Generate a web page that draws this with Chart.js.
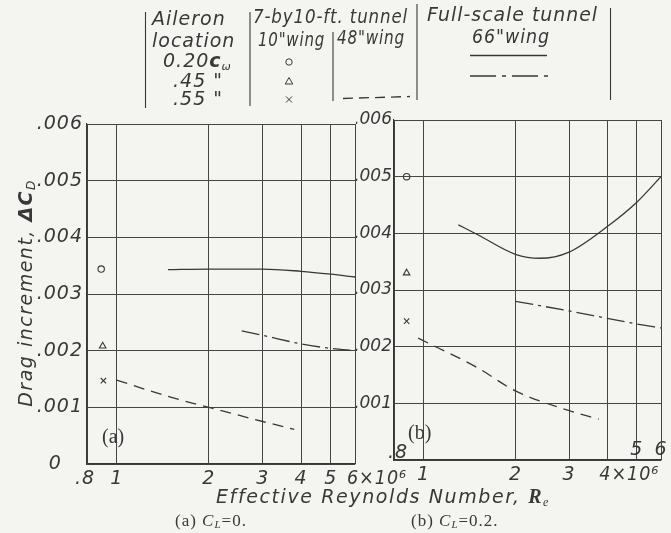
<!DOCTYPE html>
<html><head><meta charset="utf-8">
<script src="https://cdn.jsdelivr.net/npm/chart.js@4.4.1/dist/chart.umd.min.js"></script>
<style>
html,body{margin:0;padding:0;background:#f4f4f1;}
#wrap{position:relative;width:671px;height:533px;overflow:hidden;background:#f4f4f1;}
canvas{position:absolute;left:0;top:0;width:671px;height:533px;}
</style></head><body>
<div id="wrap"><canvas id="ca" width="671" height="533"></canvas><canvas id="cb" width="671" height="533"></canvas></div>
<script>
// ---- data ----
const xTickValues = [0.8, 1, 2, 3, 4, 5, 6];
const yTickValues = [0, 0.001, 0.002, 0.003, 0.004, 0.005, 0.006];
const xTickLabelsA = ['.8', '1', '2', '3', '4', '5', '6×10⁶'];
const xTickLabelsB = ['.8', '1', '2', '3', '4×10⁶', '5', '6'];

// (a) CL = 0
const A_tunnel10_x = [0.89, 0.90, 0.905];          // 7-by10-ft tunnel, 10" wing
const A_tunnel10_y = [0.00344, 0.00208, 0.00147];  // 0.20cw, .45, .55
const A_fs020_x = [1.47, 2, 3, 4, 5, 6];
const A_fs020_y = [0.00343, 0.00344, 0.00344, 0.00340, 0.00335, 0.00330];
const A_fs045_x = [2.56, 3, 4, 5, 6];
const A_fs045_y = [0.00235, 0.00227, 0.00212, 0.00204, 0.00200];
const A_w48_x = [1.0, 1.5, 2, 3, 3.8];
const A_w48_y = [0.00148, 0.00118, 0.00100, 0.00075, 0.00061];

// (b) CL = 0.2
const B_tunnel10_x = [0.88, 0.88, 0.88];
const B_tunnel10_y = [0.00500, 0.00330, 0.00245];
const B_fs020_x = [1.3, 1.5, 2, 2.4, 3, 4, 5, 6];
const B_fs020_y = [0.00415, 0.00398, 0.00363, 0.00356, 0.00367, 0.00412, 0.00455, 0.00500];
const B_fs045_x = [2, 3, 4, 5, 6];
const B_fs045_y = [0.00280, 0.00263, 0.00250, 0.00240, 0.00233];
const B_w48_x = [0.96, 1.5, 2, 3, 3.75];
const B_w48_y = [0.00215, 0.00163, 0.00122, 0.00087, 0.00072];

const INK = '#383838';
const HAND = 'italic 19px "DejaVu Sans"';
const zip = (xs, ys) => xs.map((x, i) => ({x, y: ys[i]}));

function datasets(t10x, t10y, s20x, s20y, s45x, s45y, w48x, w48y) {
  const styles = ['circle', 'triangle', 'crossRot'];
  const pts = styles.map((st, i) => ({
    data: [{x: t10x[i], y: t10y[i]}], showLine: false, pointStyle: st,
    pointRadius: st === 'circle' ? 3.2 : 3.8, borderColor: INK, backgroundColor: 'rgba(0,0,0,0)', borderWidth: 1.1
  }));
  const line = (xs, ys, dash) => ({
    data: zip(xs, ys), showLine: true, pointRadius: 0, borderColor: INK, borderWidth: 1.3,
    borderDash: dash, cubicInterpolationMode: 'monotone', fill: false
  });
  return pts.concat([line(s20x, s20y, []), line(s45x, s45y, [18, 5, 3, 5]), line(w48x, w48y, [11, 7])]);
}

function yLabel(v, showZero) {
  if (Math.abs(v) < 1e-9) return showZero ? '0   ' : '';
  return '.' + String(Math.round(v * 1000)).padStart(3, '0');
}

function makeOptions(padding, yWidth, showZero, fontSize, tickPad) {
  return {
    responsive: false, animation: false, devicePixelRatio: 1,
    layout: {padding},
    plugins: {legend: {display: false}, tooltip: {enabled: false}},
    scales: {
      x: {
        type: 'logarithmic', min: 0.8, max: 6,
        afterBuildTicks: s => { s.ticks = xTickValues.map(v => ({value: v})); },
        afterFit: s => { s.height = 0; },
        ticks: {display: false},
        grid: {color: '#454545', lineWidth: 1, drawTicks: false},
        border: {color: '#363636', width: 1.2}
      },
      y: {
        type: 'linear', min: 0, max: 0.006,
        afterBuildTicks: s => { s.ticks = yTickValues.map(v => ({value: v})); },
        afterFit: s => { s.width = yWidth; },
        ticks: {padding: tickPad, color: INK, font: {family: 'DejaVu Sans', style: 'italic', size: fontSize},
                callback: v => yLabel(v, showZero)},
        grid: {color: '#454545', lineWidth: 1, drawTicks: false},
        border: {color: '#363636', width: 1.2}
      }
    }
  };
}

function runs(ctx, x, y, parts) {
  let cx = x;
  for (const [t, f, dy] of parts) {
    ctx.font = f;
    ctx.fillText(t, cx, y + (dy || 0));
    cx += ctx.measureText(t).width;
  }
  return cx;
}
function runsWidth(ctx, parts) {
  let w = 0;
  for (const [t, f] of parts) { ctx.font = f; w += ctx.measureText(t).width; }
  return w;
}
// draw text scaled to fit a width measured on the reference
function fitText(ctx, t, x, y, w) { ctx.fillText(t, x, y, w); }

const xLabelPlugin = (labels, above) => ({
  id: 'xlab',
  afterDraw(chart) {
    const ctx = chart.ctx, sx = chart.scales.x, bottom = chart.chartArea.bottom;
    ctx.save();
    ctx.fillStyle = INK; ctx.font = HAND; ctx.letterSpacing = '1px';
    ctx.textBaseline = 'middle';
    xTickValues.forEach((v, i) => {
      const t = labels[i]; const px = sx.getPixelForValue(v);
      const up = above.includes(i);
      let y = bottom + 15;
      if (up) y = (i === 0) ? bottom - 7 : bottom - 10;
      if (t.length > 2) { ctx.textAlign = 'left'; ctx.fillText(t, px - 8, y, 60); }
      else { ctx.textAlign = 'center'; ctx.fillText(t, px + (i === 0 && up ? 4 : 0) - (i === 0 && !up ? 2 : 0), y); }
    });
    ctx.restore();
  }
});

const spacingPlugin = (sp) => ({id: 'spacing', beforeDraw(chart) { chart.ctx.letterSpacing = sp; }});

const panelTag = (tag, dx, dy) => ({
  id: 'tag',
  afterDraw(chart) {
    const ctx = chart.ctx, a = chart.chartArea;
    ctx.save(); ctx.letterSpacing = '0px';
    ctx.fillStyle = INK; ctx.font = '20px "Liberation Serif"';
    ctx.textAlign = 'left'; ctx.textBaseline = 'middle';
    ctx.fillText(tag, a.left + dx, a.bottom + dy);
    ctx.restore();
  }
});

const decorPlugin = {
  id: 'decor',
  afterDraw(chart) {
    const ctx = chart.ctx;
    ctx.save();
    ctx.fillStyle = INK; ctx.strokeStyle = INK; ctx.letterSpacing = '1px';
    ctx.textBaseline = 'middle'; ctx.textAlign = 'left';
    // y-axis title
    ctx.save();
    ctx.translate(27, 293); ctx.rotate(-Math.PI / 2);
    ctx.letterSpacing = '1.5px';
    const tp = [['Drag increment, ', HAND], ['ΔC', 'italic bold 19px "DejaVu Sans"'], ['D', 'italic 12px "DejaVu Sans"', 5]];
    runs(ctx, -runsWidth(ctx, tp) / 2, 0, tp);
    ctx.restore();
    // x-axis title
    ctx.letterSpacing = '1.6px';
    const xp = [['Effective Reynolds Number, ', HAND], ['R', 'bold italic 20px "Liberation Serif"'], ['e', 'italic 12px "Liberation Serif"', 5]];
    runs(ctx, 216, 498, xp);
    // captions
    ctx.letterSpacing = '1px';
    const S = '17px "Liberation Serif"', SI = 'italic 17px "Liberation Serif"', SS = 'italic 11px "Liberation Serif"';
    runs(ctx, 175, 522, [['(a) ', S], ['C', SI], ['L', SS, 3], ['=0.', S]]);
    runs(ctx, 411, 522, [['(b) ', S], ['C', SI], ['L', SS, 3], ['=0.2.', S]]);
    // legend table
    ctx.letterSpacing = '1px';
    ctx.font = HAND;
    fitText(ctx, 'Aileron', 152, 20, 77);
    fitText(ctx, 'location', 152, 42, 86);
    runs(ctx, 163, 62, [['0.20', HAND], ['c', 'italic bold 19px "DejaVu Sans"'], ['ω', 'italic 11px "DejaVu Sans"', 5]]);
    ctx.font = HAND;
    fitText(ctx, '.45 "', 173, 82, 50);
    fitText(ctx, '.55 "', 173, 100, 50);
    fitText(ctx, '7-by10-ft. tunnel', 253, 18, 155);
    fitText(ctx, '10"wing', 258, 41, 67);
    fitText(ctx, '48"wing', 337, 39, 68);
    fitText(ctx, 'Full-scale tunnel', 427, 16, 171);
    fitText(ctx, '66"wing', 472, 38, 78);
    // separators
    ctx.lineWidth = 1.1;
    const bar = (x, y1, y2) => { ctx.beginPath(); ctx.moveTo(x, y1); ctx.lineTo(x, y2); ctx.stroke(); };
    bar(145.5, 12, 108); bar(250, 12, 106); bar(333, 32, 101); bar(417, 4, 100); bar(610.5, 8, 100);
    // symbols
    ctx.lineWidth = 1;
    ctx.beginPath(); ctx.arc(289, 62, 3.2, 0, Math.PI * 2); ctx.stroke();
    ctx.beginPath(); ctx.moveTo(289, 77.5); ctx.lineTo(292.8, 84); ctx.lineTo(285.2, 84); ctx.closePath(); ctx.stroke();
    ctx.beginPath(); ctx.moveTo(286, 96.5); ctx.lineTo(292, 102.5); ctx.moveTo(292, 96.5); ctx.lineTo(286, 102.5); ctx.stroke();
    // line samples
    ctx.lineWidth = 1.3;
    ctx.beginPath(); ctx.moveTo(470, 55.5); ctx.lineTo(547, 55.5); ctx.stroke();
    ctx.setLineDash([26, 6, 4, 6]);
    ctx.beginPath(); ctx.moveTo(470, 76); ctx.lineTo(549, 76); ctx.stroke();
    ctx.setLineDash([10, 6]);
    ctx.beginPath(); ctx.moveTo(343, 98.5); ctx.lineTo(410, 96.5); ctx.stroke();
    ctx.setLineDash([]);
    ctx.restore();
  }
};

new Chart(document.getElementById('ca'), {
  type: 'scatter',
  data: {datasets: datasets(A_tunnel10_x, A_tunnel10_y, A_fs020_x, A_fs020_y, A_fs045_x, A_fs045_y, A_w48_x, A_w48_y)},
  options: makeOptions({left: 0, top: 124, right: 316, bottom: 69}, 87, true, 19, 4),
  plugins: [spacingPlugin('1px'), xLabelPlugin(xTickLabelsA, []), panelTag('(a)', 15, -26), decorPlugin]
});

new Chart(document.getElementById('cb'), {
  type: 'scatter',
  data: {datasets: datasets(B_tunnel10_x, B_tunnel10_y, B_fs020_x, B_fs020_y, B_fs045_x, B_fs045_y, B_w48_x, B_w48_y)},
  options: makeOptions({left: 356, top: 120, right: 10, bottom: 73}, 38, false, 17, 2),
  plugins: [spacingPlugin('0px'), xLabelPlugin(xTickLabelsB, [0, 5, 6]), panelTag('(b)', 14, -26)]
});
</script>
</body></html>
